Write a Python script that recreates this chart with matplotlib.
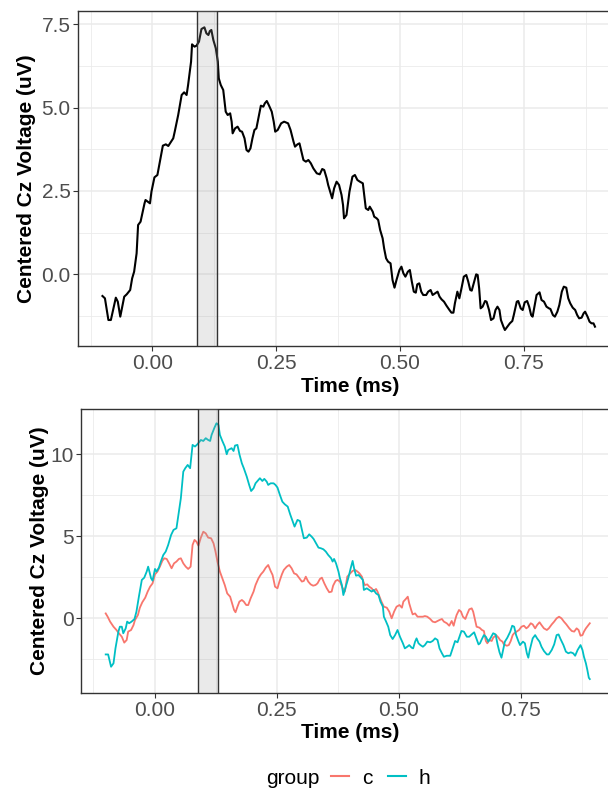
import matplotlib
matplotlib.use("Agg")
import matplotlib.pyplot as plt
from matplotlib.lines import Line2D
import numpy as np

plt.rcParams['font.family'] = ['Liberation Sans', 'DejaVu Sans']

# ---------------- data ----------------
# Top panel: grand average
t_all = [-0.101, -0.096, -0.089, -0.084, -0.074, -0.070, -0.065, -0.057, -0.052, -0.045,
         -0.041, -0.037, -0.032, -0.029, -0.024, -0.016, -0.014, -0.005, -0.002, 0.004,
         0.010, 0.015, 0.021, 0.027, 0.032, 0.042, 0.045, 0.052, 0.059, 0.064,
         0.069, 0.072, 0.078, 0.080, 0.085, 0.089, 0.094, 0.099, 0.105, 0.109,
         0.113, 0.116, 0.119, 0.123, 0.128, 0.132, 0.134, 0.138, 0.143, 0.148,
         0.152, 0.157, 0.160, 0.162, 0.167, 0.172, 0.177, 0.181, 0.186, 0.190,
         0.194, 0.198, 0.202, 0.206, 0.210, 0.214, 0.219, 0.224, 0.227, 0.231,
         0.235, 0.241, 0.245, 0.248, 0.253, 0.260, 0.266, 0.274, 0.279, 0.285,
         0.288, 0.293, 0.297, 0.301, 0.305, 0.310, 0.315, 0.320, 0.325, 0.332,
         0.338, 0.343, 0.347, 0.352, 0.355, 0.360, 0.363, 0.367, 0.372, 0.377,
         0.382, 0.385, 0.387, 0.392, 0.398, 0.404, 0.409, 0.414, 0.419, 0.425,
         0.427, 0.431, 0.436, 0.439, 0.445, 0.448, 0.453, 0.456, 0.460, 0.465,
         0.468, 0.472, 0.476, 0.481, 0.485, 0.489, 0.493, 0.499, 0.503, 0.507,
         0.511, 0.516, 0.520, 0.524, 0.528, 0.532, 0.535, 0.539, 0.543, 0.547,
         0.553, 0.557, 0.562, 0.566, 0.571, 0.576, 0.580, 0.584, 0.589, 0.594,
         0.600, 0.604, 0.608, 0.611, 0.616, 0.620, 0.625, 0.629, 0.634, 0.638,
         0.642, 0.645, 0.650, 0.654, 0.657, 0.660, 0.663, 0.667, 0.672, 0.675,
         0.680, 0.684, 0.689, 0.693, 0.697, 0.701, 0.704, 0.709, 0.712, 0.717,
         0.722, 0.727, 0.730, 0.736, 0.739, 0.744, 0.748, 0.752, 0.757, 0.761,
         0.765, 0.768, 0.771, 0.776, 0.782, 0.786, 0.791, 0.796, 0.801, 0.804,
         0.809, 0.813, 0.818, 0.822, 0.827, 0.831, 0.836, 0.840, 0.844, 0.849,
         0.854, 0.858, 0.862, 0.867, 0.871, 0.874, 0.879, 0.883, 0.887, 0.891,
         0.894]
v_all = [-0.65, -0.72, -1.37, -1.37, -0.70, -0.82, -1.27, -0.67, -0.60, -0.47,
         -0.12, 0.08, 0.63, 1.48, 1.58, 2.13, 2.23, 2.13, 2.48, 2.91,
         2.98, 3.38, 3.86, 3.90, 3.85, 4.08, 4.28, 4.78, 5.38, 5.46,
         5.38, 5.68, 6.38, 6.90, 6.83, 6.86, 6.98, 7.36, 7.41, 7.23,
         7.18, 7.30, 7.33, 7.03, 6.78, 6.38, 5.88, 5.68, 5.53, 4.88,
         4.78, 4.83, 4.58, 4.23, 4.38, 4.43, 4.30, 4.28, 4.08, 3.73,
         3.68, 3.78, 4.08, 4.33, 4.38, 4.68, 5.06, 5.03, 5.13, 5.20,
         5.08, 4.88, 4.58, 4.28, 4.33, 4.53, 4.58, 4.53, 4.33, 3.98,
         3.83, 3.90, 3.93, 3.68, 3.43, 3.38, 3.43, 3.33, 3.18, 3.03,
         3.00, 3.16, 3.13, 2.88, 2.68, 2.43, 2.28, 2.58, 2.78, 2.68,
         2.38, 2.08, 1.68, 1.78, 2.48, 2.93, 2.98, 2.83, 2.78, 2.73,
         2.48, 1.98, 1.93, 2.03, 1.88, 1.73, 1.68, 1.63, 1.33, 1.08,
         0.78, 0.48, 0.38, 0.33, -0.17, -0.40, -0.17, 0.13, 0.23, 0.03,
         -0.07, 0.08, 0.13, -0.22, -0.52, -0.55, -0.30, -0.27, -0.52, -0.62,
         -0.62, -0.52, -0.47, -0.62, -0.57, -0.52, -0.67, -0.75, -0.82, -0.94,
         -1.07, -1.15, -1.15, -0.87, -0.52, -0.72, -0.37, -0.07, -0.02, -0.22,
         -0.47, -0.49, -0.22, 0.00, -0.02, -0.42, -1.02, -0.97, -0.80, -0.82,
         -1.07, -1.37, -1.32, -1.07, -0.97, -1.07, -1.37, -1.57, -1.67, -1.57,
         -1.47, -1.40, -1.22, -0.82, -0.80, -1.02, -1.07, -0.84, -0.80, -0.97,
         -1.22, -1.27, -1.02, -0.62, -0.54, -0.77, -0.82, -0.97, -1.02, -1.04,
         -1.22, -1.27, -1.12, -0.92, -0.52, -0.37, -0.40, -0.72, -0.87, -1.00,
         -1.07, -1.22, -1.32, -1.30, -1.17, -1.12, -1.27, -1.42, -1.47, -1.47,
         -1.57]

# Bottom panel: group h
t_h = [-0.100, -0.095, -0.089, -0.084, -0.080, -0.074, -0.071, -0.067, -0.064, -0.059,
       -0.056, -0.052, -0.047, -0.041, -0.037, -0.032, -0.026, -0.021, -0.016, -0.013,
       -0.007, -0.004, 0.001, 0.004, 0.009, 0.013, 0.018, 0.023, 0.028, 0.034,
       0.039, 0.045, 0.049, 0.054, 0.059, 0.063, 0.068, 0.073, 0.078, 0.083,
       0.088, 0.095, 0.100, 0.105, 0.110, 0.114, 0.117, 0.123, 0.127, 0.131,
       0.134, 0.139, 0.144, 0.148, 0.151, 0.158, 0.162, 0.165, 0.170, 0.174,
       0.179, 0.183, 0.189, 0.194, 0.198, 0.203, 0.207, 0.213, 0.216, 0.221,
       0.225, 0.230, 0.233, 0.238, 0.244, 0.248, 0.252, 0.257, 0.262, 0.267,
       0.273, 0.278, 0.282, 0.287, 0.290, 0.293, 0.298, 0.302, 0.306, 0.312,
       0.317, 0.322, 0.326, 0.331, 0.336, 0.341, 0.346, 0.351, 0.356, 0.362,
       0.365, 0.368, 0.372, 0.377, 0.380, 0.384, 0.387, 0.392, 0.397, 0.402,
       0.406, 0.409, 0.413, 0.418, 0.423, 0.427, 0.429, 0.435, 0.440, 0.445,
       0.449, 0.454, 0.459, 0.463, 0.468, 0.470, 0.474, 0.479, 0.483, 0.488,
       0.493, 0.498, 0.503, 0.509, 0.513, 0.518, 0.522, 0.527, 0.530, 0.534,
       0.537, 0.541, 0.545, 0.550, 0.554, 0.559, 0.565, 0.570, 0.575, 0.580,
       0.584, 0.589, 0.593, 0.599, 0.606, 0.611, 0.616, 0.621, 0.625, 0.629,
       0.634, 0.640, 0.645, 0.650, 0.655, 0.659, 0.664, 0.667, 0.670, 0.675,
       0.679, 0.684, 0.689, 0.694, 0.699, 0.703, 0.707, 0.711, 0.715, 0.718,
       0.723, 0.729, 0.733, 0.737, 0.741, 0.746, 0.749, 0.755, 0.759, 0.763,
       0.766, 0.769, 0.775, 0.780, 0.784, 0.789, 0.793, 0.798, 0.804, 0.808,
       0.814, 0.819, 0.824, 0.828, 0.832, 0.838, 0.843, 0.848, 0.853, 0.858,
       0.862, 0.867, 0.871, 0.873, 0.877, 0.880, 0.884, 0.887, 0.890, 0.892]
v_h = [-2.20, -2.20, -2.95, -2.74, -1.83, -0.81, -0.51, -0.51, -0.91, -0.61,
       -0.20, -0.30, -0.20, -0.04, 0.41, 1.32, 2.34, 2.48, 2.85, 3.15,
       2.44, 2.30, 3.01, 2.85, 3.09, 3.46, 3.86, 4.07, 4.47, 5.08,
       5.39, 5.49, 6.30, 7.32, 8.94, 9.15, 9.35, 9.15, 10.57, 10.47,
       10.61, 10.87, 10.81, 10.98, 10.87, 10.81, 11.18, 11.63, 11.89, 11.79,
       11.18, 10.81, 10.47, 10.00, 10.26, 10.37, 10.20, 10.53, 10.57, 10.00,
       9.45, 9.15, 8.64, 8.13, 7.76, 7.93, 8.23, 8.43, 8.54, 8.37,
       8.50, 8.33, 8.13, 8.23, 8.23, 8.13, 7.97, 7.52, 7.11, 6.95,
       6.81, 6.34, 6.00, 5.59, 5.79, 6.00, 5.93, 5.39, 4.88, 4.92,
       5.12, 4.98, 4.84, 4.57, 4.31, 4.27, 4.21, 4.07, 3.86, 3.66,
       3.46, 3.62, 3.35, 2.85, 2.44, 2.03, 1.42, 1.93, 2.44, 3.05,
       3.50, 3.05, 2.60, 2.64, 2.48, 2.34, 1.73, 1.83, 1.73, 1.63,
       1.73, 1.52, 1.42, 1.02, 0.71, 0.10, -0.16, -0.51, -1.02, -1.26,
       -1.02, -0.71, -1.12, -1.52, -1.83, -1.73, -1.63, -1.79, -1.83, -1.42,
       -1.22, -1.52, -1.63, -1.73, -1.63, -1.42, -1.46, -1.38, -1.22, -1.32,
       -1.83, -2.13, -2.34, -2.28, -2.28, -1.83, -1.38, -1.46, -1.12, -0.77,
       -0.81, -1.12, -1.12, -0.98, -0.85, -1.18, -1.59, -1.52, -1.32, -1.02,
       -1.12, -1.42, -1.18, -0.91, -0.98, -1.59, -2.07, -2.40, -1.83, -1.42,
       -1.18, -0.81, -0.45, -0.51, -1.02, -1.42, -1.63, -1.42, -1.52, -2.13,
       -2.40, -1.93, -1.22, -1.02, -1.22, -1.42, -1.73, -1.99, -2.20, -2.20,
       -1.93, -1.59, -1.02, -0.98, -1.26, -1.63, -2.03, -2.13, -2.07, -2.13,
       -2.28, -1.93, -1.73, -1.63, -1.93, -2.34, -2.74, -3.15, -3.62, -3.70]

# Bottom panel: group c
t_c = [-0.100, -0.096, -0.091, -0.084, -0.078, -0.073, -0.067, -0.062, -0.057, -0.054,
       -0.048, -0.043, -0.040, -0.034, -0.030, -0.025, -0.019, -0.014, -0.009, -0.004,
       0.001, 0.006, 0.011, 0.016, 0.020, 0.025, 0.030, 0.035, 0.040, 0.045,
       0.050, 0.054, 0.059, 0.064, 0.069, 0.074, 0.078, 0.082, 0.086, 0.090,
       0.095, 0.100, 0.105, 0.110, 0.116, 0.121, 0.125, 0.129, 0.134, 0.139,
       0.144, 0.149, 0.155, 0.158, 0.163, 0.166, 0.170, 0.174, 0.179, 0.183,
       0.188, 0.192, 0.197, 0.203, 0.207, 0.213, 0.218, 0.223, 0.228, 0.233,
       0.238, 0.242, 0.247, 0.252, 0.256, 0.261, 0.265, 0.271, 0.276, 0.281,
       0.286, 0.291, 0.296, 0.302, 0.306, 0.310, 0.315, 0.320, 0.325, 0.330,
       0.334, 0.339, 0.343, 0.348, 0.353, 0.358, 0.363, 0.366, 0.371, 0.375,
       0.380, 0.385, 0.390, 0.395, 0.401, 0.406, 0.411, 0.416, 0.420, 0.425,
       0.428, 0.431, 0.436, 0.440, 0.445, 0.449, 0.454, 0.457, 0.461, 0.465,
       0.470, 0.476, 0.481, 0.486, 0.491, 0.496, 0.502, 0.507, 0.510, 0.515,
       0.519, 0.522, 0.526, 0.529, 0.534, 0.539, 0.544, 0.550, 0.554, 0.559,
       0.565, 0.570, 0.575, 0.580, 0.584, 0.589, 0.593, 0.599, 0.604, 0.609,
       0.613, 0.616, 0.619, 0.624, 0.628, 0.632, 0.637, 0.640, 0.645, 0.650,
       0.653, 0.657, 0.660, 0.666, 0.671, 0.675, 0.679, 0.682, 0.686, 0.691,
       0.694, 0.700, 0.705, 0.708, 0.713, 0.716, 0.722, 0.726, 0.730, 0.734,
       0.737, 0.742, 0.747, 0.752, 0.757, 0.762, 0.766, 0.771, 0.775, 0.780,
       0.784, 0.789, 0.793, 0.798, 0.804, 0.808, 0.814, 0.819, 0.824, 0.829,
       0.834, 0.839, 0.844, 0.850, 0.855, 0.860, 0.865, 0.869, 0.873, 0.877,
       0.880, 0.884, 0.889, 0.892]
v_c = [0.30, 0.10, -0.20, -0.51, -0.71, -0.91, -1.12, -1.48, -1.32, -0.81,
       -0.71, -0.41, -0.10, 0.20, 0.65, 0.98, 1.26, 1.63, 1.93, 2.13,
       2.68, 2.85, 3.15, 3.50, 3.66, 3.62, 3.35, 3.05, 3.35, 3.46,
       3.62, 3.66, 3.35, 3.15, 3.01, 3.15, 4.47, 4.78, 4.67, 4.43,
       4.92, 5.28, 5.18, 4.92, 4.88, 4.57, 4.07, 3.46, 2.85, 2.44,
       2.03, 1.52, 1.32, 1.02, 0.51, 0.37, 0.71, 1.02, 1.12, 1.02,
       0.81, 0.81, 1.22, 1.63, 2.03, 2.44, 2.68, 2.85, 3.09, 3.25,
       2.89, 2.64, 1.93, 1.83, 2.24, 2.68, 2.95, 3.15, 3.25, 3.05,
       2.74, 2.68, 2.48, 2.24, 2.28, 2.54, 2.24, 2.07, 1.99, 2.03,
       2.13, 2.40, 2.48, 2.13, 1.83, 1.59, 1.63, 1.99, 2.28, 2.34,
       2.24, 1.87, 1.63, 2.54, 2.74, 2.89, 2.95, 2.85, 2.74, 2.54,
       2.24, 2.03, 2.07, 1.93, 1.83, 1.67, 1.79, 1.63, 1.32, 1.02,
       0.71, 0.65, 0.41, 0.00, 0.41, 0.71, 0.81, 0.65, 1.02, 1.18,
       1.32, 0.91, 0.51, 0.24, 0.30, 0.10, 0.10, 0.10, 0.14, 0.10,
       -0.04, -0.20, -0.24, -0.16, -0.10, -0.04, -0.20, -0.30, -0.45, -0.16,
       -0.45, -0.10, 0.20, 0.51, 0.41, 0.10, -0.04, 0.20, 0.55, 0.61,
       0.41, -0.10, -0.51, -0.57, -0.71, -0.77, -1.38, -1.52, -1.32, -1.38,
       -1.18, -1.02, -1.18, -1.32, -1.42, -1.59, -1.67, -1.63, -1.38, -1.02,
       -0.91, -0.81, -0.71, -0.51, -0.45, -0.61, -0.51, -0.30, -0.37, -0.61,
       -0.41, -0.24, -0.41, -0.61, -0.71, -0.61, -0.37, -0.20, 0.00, 0.10,
       0.00, -0.20, -0.37, -0.61, -0.77, -0.81, -0.61, -0.71, -1.06, -1.02,
       -0.81, -0.61, -0.41, -0.30]

window = [0.09, 0.13]
groups = ['c', 'h']
group_colors = ['#F8766D', '#00BFC4']

x_ticks = [0.0, 0.25, 0.5, 0.75]
x_minor = [-0.125, 0.125, 0.375, 0.625, 0.875]
top_y_ticks = [0.0, 2.5, 5.0, 7.5]
top_y_minor = [-1.25, 1.25, 3.75, 6.25]
bot_y_ticks = [0, 5, 10]
bot_y_minor = [-2.5, 2.5, 7.5]

# ---------------- figure ----------------
W, H = 608, 788
fig = plt.figure(figsize=(W / 100, H / 100), dpi=100)
FS = 15
TXT = '#4D4D4D'

def px_axes(left, top, right, bottom):
    return fig.add_axes([left / W, 1 - bottom / H, (right - left) / W, (bottom - top) / H])

def style(ax, yt, ym, ylab_fmt):
    ax.set_xticks(x_ticks)
    ax.set_xticklabels([f'{v:.2f}' for v in x_ticks])
    ax.set_xticks(x_minor, minor=True)
    ax.set_yticks(yt)
    ax.set_yticklabels([ylab_fmt(v) for v in yt])
    ax.set_yticks(ym, minor=True)
    ax.grid(which='major', color='#EBEBEB', lw=1.1, zorder=0)
    ax.grid(which='minor', color='#EBEBEB', lw=0.6, zorder=0)
    ax.set_axisbelow(True)
    ax.tick_params(which='major', length=3.6, width=0.8, color='#333333',
                   labelsize=FS, labelcolor=TXT, pad=1.8)
    ax.tick_params(which='minor', length=0)
    for s in ax.spines.values():
        s.set_color('#333333')
        s.set_linewidth(1.0)
    ax.set_xlabel('Time (ms)', fontsize=FS, fontweight='bold', color='black')
    ax.set_ylabel('Centered Cz Voltage (uV)', fontsize=FS, fontweight='bold', color='black')

def window_box(ax):
    ax.axvspan(window[0], window[1], facecolor='#A0A0A0', alpha=0.22, lw=0, zorder=4)
    for xv in window:
        ax.axvline(xv, color='#333333', lw=1.0, zorder=5)

# top panel
ax1 = px_axes(78.2, 11, 622.7, 346)
ax1.plot(t_all, v_all, color='black', lw=1.5, zorder=3)
window_box(ax1)
ax1.set_xlim(-0.15, 0.95)
ax1.set_ylim(-2.15, 7.90)
style(ax1, top_y_ticks, top_y_minor, lambda v: f'{v:.1f}')
ax1.xaxis.set_label_coords((350 - 78.2) / 544.5, (346 - 377) / 335)
ax1.yaxis.set_label_coords((36 - 78.2) / 544.5, 0.5)

# bottom panel
ax2 = px_axes(81.3, 409.3, 618.1, 693)
for g, col, tt, vv in zip(groups, group_colors, [t_c, t_h], [v_c, v_h]):
    ax2.plot(tt, vv, color=col, lw=1.3, zorder=3, label=g)
window_box(ax2)
ax2.set_xlim(-0.15, 0.95)
ax2.set_ylim(-4.55, 12.74)
style(ax2, bot_y_ticks, bot_y_minor, lambda v: f'{v:d}')
ax2.xaxis.set_label_coords((350 - 81.3) / 536.8, (693 - 723) / 283.7)
ax2.yaxis.set_label_coords((49 - 81.3) / 536.8, 0.5)

# legend
fig.text(266 / W, 1 - 778 / H, 'group', fontsize=FS, ha='left', va='center', color='black')
handles = [Line2D([], [], color=c, lw=1.5) for c in group_colors]
fig.legend(handles, groups, loc='center left', bbox_to_anchor=(331 / W, 1 - 778 / H),
           ncol=2, frameon=False, fontsize=FS, handlelength=0.88, handletextpad=0.6,
           columnspacing=0.75, borderpad=0, borderaxespad=0)

fig.savefig('out.png', dpi=100)
